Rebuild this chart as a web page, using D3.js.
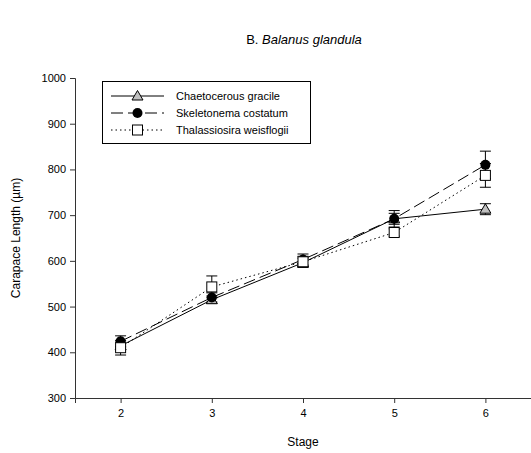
<!DOCTYPE html>
<html><head><meta charset="utf-8">
<script src="https://cdn.jsdelivr.net/npm/d3@7"></script>
<style>body{margin:0;background:#fff}svg{display:block;font-family:"Liberation Sans",Arial,sans-serif}</style>
</head><body><svg id="c" width="531" height="453"></svg>
<script>
const stages = [2, 3, 4, 5, 6];
const yTicks = [300, 400, 500, 600, 700, 800, 900, 1000];
const seriesNames = ["Chaetocerous gracile", "Skeletonema costatum", "Thalassiosira weisflogii"];
const chaetoMean = [414, 515, 596, 692, 713];
const chaetoErr  = [8, 8, 10, 12, 12];
const skeletoMean = [424, 520, 603, 692, 810];
const skeletoErr  = [12, 10, 12, 18, 30];
const thalaMean = [410, 543, 598, 662, 787];
const thalaErr  = [16, 24, 12, 8, 26];

const svg = d3.select("#c");
const x = d3.scaleLinear().domain([1.5, 6.5]).range([75, 531]);
const y = d3.scaleLinear().domain([300, 1000]).range([398, 78]);

const axCol = "#333";
const gx = svg.append("g").attr("transform", "translate(0,398)")
  .call(d3.axisBottom(x).tickValues(stages).tickSize(5).tickPadding(6).tickFormat(d3.format("d")));
const gy = svg.append("g").attr("transform", "translate(75,0)")
  .call(d3.axisLeft(y).tickValues(yTicks).tickSize(5).tickPadding(4).tickFormat(d3.format("d")));
[gx, gy].forEach(g => {
  g.select(".domain").attr("stroke", axCol);
  g.selectAll(".tick line").attr("stroke", axCol);
  g.selectAll("text").attr("font-size", 11).attr("fill", "#000").attr("font-family", "Liberation Sans, Arial, sans-serif");
});

svg.append("text").attr("x", 303).attr("y", 446).attr("text-anchor", "middle").attr("font-size", 12).text("Stage");
svg.append("text").attr("transform", "translate(20,238) rotate(-90)").attr("text-anchor", "middle").attr("font-size", 12)
  .text("Carapace Length (\u00b5m)");
const t = svg.append("text").attr("x", 304).attr("y", 44).attr("text-anchor", "middle").attr("font-size", 13);
t.append("tspan").text("B. ");
t.append("tspan").attr("font-style", "italic").text("Balanus glandula");

const series = [
  {name: seriesNames[0], mean: chaetoMean, err: chaetoErr, dash: null, marker: "tri"},
  {name: seriesNames[1], mean: skeletoMean, err: skeletoErr, dash: "12,5", marker: "circ"},
  {name: seriesNames[2], mean: thalaMean, err: thalaErr, dash: "1.5,3", marker: "sq"}
];

const line = d3.line().x((d, i) => x(stages[i])).y(d => y(d));
function marker(g, type, cx, cy) {
  if (type === "tri") {
    g.append("path").attr("d", `M${cx},${cy-5.5}L${cx+5.5},${cy+4}L${cx-5.5},${cy+4}Z`)
      .attr("fill", "#c0c0c0").attr("stroke", "#000").attr("stroke-width", 1);
  } else if (type === "circ") {
    g.append("circle").attr("cx", cx).attr("cy", cy).attr("r", 5).attr("fill", "#000");
  } else {
    g.append("rect").attr("x", cx-5).attr("y", cy-5).attr("width", 10).attr("height", 10)
      .attr("fill", "#fff").attr("stroke", "#000").attr("stroke-width", 1);
  }
}

series.forEach(s => {
  svg.append("path").attr("d", line(s.mean)).attr("fill", "none").attr("stroke", "#000")
    .attr("stroke-width", 1).attr("stroke-dasharray", s.dash);
});
series.forEach(s => {
  const g = svg.append("g");
  s.mean.forEach((m, i) => {
    const cx = x(stages[i]);
    const y1 = y(m + s.err[i]), y0 = y(m - s.err[i]);
    g.append("line").attr("x1", cx).attr("x2", cx).attr("y1", y1).attr("y2", y0).attr("stroke", "#000");
    [y1, y0].forEach(yy => g.append("line").attr("x1", cx-5.5).attr("x2", cx+5.5).attr("y1", yy).attr("y2", yy).attr("stroke", "#000"));
  });
});
series.forEach(s => {
  const g = svg.append("g");
  s.mean.forEach((m, i) => marker(g, s.marker, x(stages[i]), y(m)));
});

// legend
const lg = svg.append("g");
lg.append("rect").attr("x", 102.5).attr("y", 81.5).attr("width", 208).attr("height", 62)
  .attr("fill", "#fff").attr("stroke", "#000");
series.forEach((s, i) => {
  const yy = 96 + i * 17;
  lg.append("line").attr("x1", 111).attr("x2", 164).attr("y1", yy).attr("y2", yy)
    .attr("stroke", "#000").attr("stroke-dasharray", s.dash);
  marker(lg, s.marker, 137.5, yy);
  lg.append("text").attr("x", 176).attr("y", yy + 4).attr("font-size", 11).text(s.name);
});
</script></body></html>
